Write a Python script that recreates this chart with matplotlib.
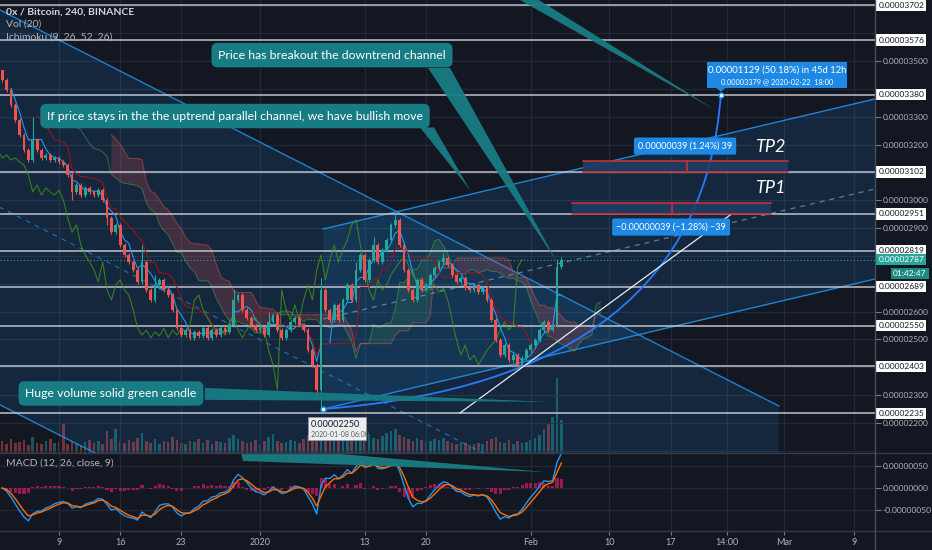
import numpy as np
import pandas as pd
import matplotlib.pyplot as plt
from matplotlib.patches import Polygon, Rectangle, PathPatch
from matplotlib.path import Path
from matplotlib.lines import Line2D

plt.rcParams['font.family'] = ['Lato', 'DejaVu Sans']

BG = '#131722'
GRID = '#232836'
TXT = '#b2b5be'
TEAL = '#187c84'
BLUE = '#2196f3'
UP = '#26a69a'
DOWN = '#ef5350'

# 12h candles, x = days since 2019-12-01, prices in satoshi
start_day = 1.5
step = 0.5
first_open = 3470
closes = [3433, 3397, 3343, 3289, 3235, 3181, 3145, 3217, 3181, 3152,
          3163, 3145, 3152, 3138, 3127, 3091, 3030, 3055, 3019, 3045,
          3030, 3019, 3037, 3001, 2937, 2886, 2912, 2840, 2804, 2779,
          2750, 2707, 2779, 2678, 2642, 2696, 2714, 2678, 2660, 2606,
          2541, 2516, 2534, 2506, 2527, 2513, 2541, 2506, 2534, 2516,
          2541, 2527, 2552, 2642, 2660, 2606, 2577, 2552, 2534, 2541,
          2516, 2563, 2588, 2534, 2506, 2534, 2563, 2577, 2552, 2534,
          2462, 2409, 2319, 2678, 2606, 2570, 2624, 2570, 2642, 2696,
          2642, 2750, 2804, 2714, 2786, 2840, 2779, 2822, 2858, 2912,
          2930, 2840, 2750, 2678, 2642, 2714, 2678, 2696, 2732, 2757,
          2779, 2793, 2768, 2732, 2707, 2721, 2685, 2678, 2696, 2671,
          2685, 2642, 2570, 2498, 2444, 2480, 2426, 2444, 2409, 2434,
          2462, 2480, 2498, 2534, 2563, 2534, 2552, 2760, 2787]
vols = [12, 9, 14, 10, 11, 13, 8, 16, 10, 9,
        12, 14, 10, 11, 30, 9, 12, 10, 8, 11,
        13, 10, 12, 9, 22, 14, 24, 12, 10, 13,
        11, 15, 20, 12, 10, 14, 9, 12, 11, 16,
        13, 10, 9, 12, 11, 14, 10, 13, 9, 12,
        11, 10, 15, 18, 14, 12, 10, 11, 13, 9,
        12, 16, 19, 12, 10, 11, 13, 12, 10, 14,
        18, 22, 28, 34, 24, 16, 14, 18, 15, 20,
        14, 22, 18, 16, 19, 15, 14, 17, 20, 22,
        24, 18, 16, 14, 12, 15, 13, 11, 12, 14,
        13, 15, 12, 10, 9, 11, 10, 8, 9, 10,
        9, 12, 14, 16, 11, 10, 13, 9, 12, 10,
        11, 13, 15, 18, 24, 30, 36, 75, 33]
high_wicks = {0: 3470, 7: 3300, 32: 2840, 35: 2730, 53: 2680, 61: 2600,
              73: 2720, 81: 2780, 85: 2870, 90: 2951, 101: 2810, 127: 2790}
low_wicks = {16: 3000, 24: 2910, 72: 2300, 73: 2250, 118: 2395}

hlines = [3702, 3576, 3380, 3102, 2951, 2819, 2689, 2550, 2403, 2235]
price_ticks = [2200, 2300, 2500, 2600, 2900, 3000, 3200, 3300, 3500]
last_price = 2787
date_ticks = [8, 15, 22, 31, 43, 50, 62, 71, 78, 84.5, 91, 99]
date_labels = ['9', '16', '23', '2020', '13', '20', 'Feb', '10', '17', '14:00', 'Mar', '9']
macd_ticks = [50, 0, -50]
macd_labels = ['0.00000050', '0.00000000', '-0.00000050']

days = start_day + step * np.arange(len(closes))
c = np.array(closes, float)
o = np.r_[first_open, c[:-1]]
h = np.maximum(o, c) + 8
l = np.minimum(o, c) - 8
for k, v in high_wicks.items():
    h[k] = v
for k, v in low_wicks.items():
    l[k] = v
cols = np.where(c >= o, UP, DOWN)

W, H = 932, 550
def fbox(x0, y0, x1, y1):
    return [x0 / W, 1 - y1 / H, (x1 - x0) / W, (y1 - y0) / H]

fig = plt.figure(figsize=(9.32, 5.5), dpi=100, facecolor=BG)
ax = fig.add_axes(fbox(0, 0, 875, 453))
ax_v = ax.twinx()
ax.set_zorder(ax_v.get_zorder() + 1)
ax.patch.set_visible(False)
ax_v.set_facecolor(BG)
ax_m = fig.add_axes(fbox(0, 453, 875, 531), sharex=ax)
ax_m.set_facecolor(BG)

ax.set_xlim(1.25, 101.4)
ax.set_ylim(2092, 3720)
ax_m.set_ylim(-97.7, 79.5)
for a in (ax, ax_v, ax_m):
    for s in a.spines.values():
        s.set_visible(False)

# grid
for t in date_ticks:
    ax.axvline(t, color=GRID, lw=0.9, zorder=0)
    ax_m.axvline(t, color=GRID, lw=0.9, zorder=0)
for p in range(2100, 3800, 100):
    ax.axhline(p, color=GRID, lw=0.9, zorder=0)
for p in macd_ticks:
    ax_m.axhline(p, color=GRID, lw=0.9, zorder=0)

# volume
ax_v.bar(days, vols, width=0.3, color=cols, alpha=0.45, zorder=1)
ax_v.set_ylim(0, max(vols) / 0.166)
ax_v.set_yticks([])

# downtrend channel
dn_x = np.array([-3, 90.4])
dn_top = np.array([3752, 2261])
dn_off = -1419
ax.add_patch(Polygon(list(zip(dn_x, dn_top)) + list(zip(dn_x[::-1], dn_top[::-1] + dn_off)),
                     closed=True, fc=BLUE, alpha=0.13, ec='none', zorder=1))
ax.plot(dn_x, dn_top, color=BLUE, lw=1, alpha=0.8, zorder=2)
ax.plot(dn_x, dn_top + dn_off, color=BLUE, lw=1, alpha=0.8, zorder=2)
ax.plot(dn_x, dn_top + dn_off / 2, color=BLUE, lw=0.9, alpha=0.6, ls=(0, (4, 4)), zorder=2)

# uptrend channel
up_x = np.array([38.25, 105])
up_top = np.array([2897, 3391])
up_off = -647
ax.add_patch(Polygon(list(zip(up_x, up_top)) + list(zip(up_x[::-1], up_top[::-1] + up_off)),
                     closed=True, fc=BLUE, alpha=0.13, ec='none', zorder=1))
ax.plot(up_x, up_top, color=BLUE, lw=1, alpha=0.85, zorder=2)
ax.plot(up_x, up_top + up_off, color=BLUE, lw=1, alpha=0.85, zorder=2)
ax.plot(up_x, up_top + up_off / 2, color='#8fb4d8', lw=0.9, alpha=0.6, ls=(0, (4, 4)), zorder=2)

# horizontal levels
for p in hlines:
    ax.axhline(p, color='#d1d4dc', lw=1.1, alpha=0.9, zorder=3)
ax.axhline(last_price, color=UP, lw=0.8, ls=(0, (1, 2)), zorder=3)

# ichimoku (periods scaled to 12h candles)
hs, ls_, cs = pd.Series(h), pd.Series(l), pd.Series(c)
tenkan = (hs.rolling(3).max() + ls_.rolling(3).min()) / 2
kijun = (hs.rolling(9).max() + ls_.rolling(9).min()) / 2
span_a = (tenkan + kijun) / 2
span_b = (hs.rolling(17).max() + ls_.rolling(17).min()) / 2
disp = 9
sx = days + disp * step
ax.fill_between(sx, span_a, span_b, where=span_a >= span_b, color='#4caf50', alpha=0.15, lw=0, zorder=2)
ax.fill_between(sx, span_a, span_b, where=span_a < span_b, color='#ef5350', alpha=0.2, lw=0, zorder=2)
ax.plot(sx, span_a, color='#4caf50', lw=0.7, alpha=0.5, zorder=2)
ax.plot(sx, span_b, color='#ef5350', lw=0.7, alpha=0.5, zorder=2)
ax.plot(days, tenkan, color='#2196f3', lw=0.8, zorder=3)
ax.plot(days, kijun, color='#991515', lw=0.8, zorder=3)
ax.plot(days - disp * step, c, color='#459915', lw=0.8, alpha=0.75, zorder=3)

# candles
ax.vlines(days, l, h, colors=cols, lw=0.8, zorder=4)
ax.bar(days, np.maximum(np.abs(c - o), 3), bottom=np.minimum(o, c), width=0.32, color=cols, zorder=4)

# curve and white line
curve = Path([(38.25, 2250), (81.4, 2355), (83.75, 3379)], [Path.MOVETO, Path.CURVE3, Path.CURVE3])
ax.add_patch(PathPatch(curve, fc='none', ec='#2979ff', lw=1.3, zorder=5))
ax.plot([53.9, 85.15], [2236, 2955], color='white', lw=0.9, alpha=0.9, zorder=5)

# TP boxes
for (x0, x1, xm, p0, p1) in [(68.0, 91.45, 79.9, 3102, 3141), (66.7, 89.5, 78.2, 2951, 2990)]:
    ax.add_patch(Rectangle((x0, p0), x1 - x0, p1 - p0, fc='#1f3d63', ec='none', alpha=0.9, zorder=5))
    ax.plot([x0, x1], [p0, p0], color='#d32f2f', lw=1.1, zorder=6)
    ax.plot([x0, x1], [p1, p1], color='#d32f2f', lw=1.1, zorder=6)
    ax.plot([xm, xm], [p0, p1], color='#d32f2f', lw=1.1, zorder=6)
ax.text(89.4, 3192, 'TP2', style='italic', size=13, color='white', ha='center', va='center', zorder=7)
ax.text(89.4, 3045, 'TP1', style='italic', size=13, color='white', ha='center', va='center', zorder=7)

lab = dict(boxstyle='round,pad=0.45,rounding_size=0.2', fc='#1e88e5', ec='none')
ax.text(79.66, 3195, '0.00000039 (1.24%) 39', size=6.5, color='white', ha='center', va='center', bbox=lab, zorder=8)
ax.text(78.06, 2904, '\u22120.00000039 (\u22121.28%) \u221239', size=6.5, color='white', ha='center', va='center', bbox=lab, zorder=8)

# target label
ax.add_patch(Rectangle((82.18, 3404), 16.02, 93, fc='#1e88e5', ec='none', zorder=8))
ax.add_patch(Polygon([(83.2, 3405), (84.3, 3405), (83.75, 3390)], fc='#1e88e5', ec='none', zorder=8))
ax.text(90.2, 3468, '0.00001129 (50.18%) in 45d 12h', size=6.8, color='white', ha='center', va='center', zorder=9)
ax.text(90.2, 3425, '0.00003379 @ 2020-02-22  18:00', size=5.3, color='white', ha='center', va='center', zorder=9)
ax.plot(83.75, 3379, 'o', ms=3.5, mfc='white', mec=BLUE, zorder=9)

# low label
ax.plot(38.25, 2250, 'o', ms=3.5, mfc='white', mec=BLUE, zorder=9)
ax.add_patch(Rectangle((36.5, 2139), 6.64, 83, fc='white', ec='#9598a1', lw=0.6, alpha=0.92, zorder=8))
ax.text(36.8, 2193, '0.00002250', size=6.5, color='#131722', ha='left', va='center', zorder=9)
ax.text(36.8, 2157, '2020-01-08 06:00', size=5, color='#555a66', ha='left', va='center', zorder=9)

# callouts
cb = dict(boxstyle='round,pad=0.55,rounding_size=0.5', fc=TEAL, ec='none')
wedges = [
    [(50.24, 3476), (52.76, 3476), (65.0, 2779)],
    [(49.33, 3262), (50.93, 3262), (55.05, 3037)],
    [(24.71, 2326), (24.71, 2283), (63.98, 2276)],
    [(59.63, 3740), (61.9, 3740), (83.09, 3325)],
]
for wdg in wedges:
    ax.add_patch(Polygon(wdg, closed=True, fc=TEAL, ec='none', alpha=0.95, zorder=9))
ax.text(39.25, 3522, 'Price has breakout the downtrend channel', size=8.8, color='white',
        ha='center', va='center', bbox=cb, zorder=10)
ax.text(28.15, 3303, 'If price stays in the the uptrend parallel channel, we have bullish move', size=8.8,
        color='white', ha='center', va='center', bbox=cb, zorder=10)
ax.text(13.95, 2306, 'Huge volume solid green candle', size=8.8, color='white',
        ha='center', va='center', bbox=cb, zorder=10)

# right price axis
ax.yaxis.tick_right()
ax.set_yticks(price_ticks, ['%.8f' % (p * 1e-8) for p in price_ticks])
ax.tick_params(axis='y', colors='#787b86', labelcolor=TXT, labelsize=6, length=4, pad=1.5)
ax.tick_params(axis='x', labelbottom=False, length=0)
for p in hlines:
    ax.annotate('%.8f' % (p * 1e-8), xy=(1.0, p), xycoords=('axes fraction', 'data'), xytext=(2.5, 0),
                textcoords='offset points', va='center', ha='left', size=6, color='#131722',
                bbox=dict(boxstyle='square,pad=0.25', fc='white', ec='none'), annotation_clip=False)
ax.annotate('%.8f' % (last_price * 1e-8), xy=(1.0, last_price), xycoords=('axes fraction', 'data'),
            xytext=(2.5, 0), textcoords='offset points', va='center', ha='left', size=6, color='white',
            bbox=dict(boxstyle='square,pad=0.25', fc=UP, ec='none'), annotation_clip=False)
ax.annotate('01:42:47', xy=(1.0, last_price), xycoords=('axes fraction', 'data'),
            xytext=(13, -10), textcoords='offset points', va='center', ha='left', size=6, color='white',
            bbox=dict(boxstyle='square,pad=0.25', fc='#1d8a80', ec='none'), annotation_clip=False)

# legend texts
fig.text(6 / W, 1 - 12 / H, '0x / Bitcoin, 240, BINANCE', size=7.5, color='#d1d4dc', weight='bold', va='center')
fig.text(6 / W, 1 - 24.5 / H, 'Vol (20)', size=7.5, color=TXT, va='center')
fig.text(6 / W, 1 - 37 / H, 'Ichimoku (9, 26, 52, 26)', size=7.5, color=TXT, va='center')

# MACD (periods scaled to 12h candles)
ema_f = cs.ewm(span=4, adjust=False).mean()
ema_s = cs.ewm(span=9, adjust=False).mean()
macd = ema_f - ema_s
signal = macd.ewm(span=3, adjust=False).mean()
hist = macd - signal
ax_m.bar(days, hist, width=0.35, color='#c2185b', alpha=0.8, zorder=2)
ax_m.plot(days, macd, color=BLUE, lw=1, zorder=3)
ax_m.plot(days, signal, color='#ff6d00', lw=1, zorder=3)
ax_m.add_patch(Polygon([(28.83, 79.5), (39.02, 79.5), (63.63, 36.4), (29.06, 61.4)],
                       closed=True, fc=TEAL, ec='none', alpha=0.95, zorder=4))
ax_m.text(6 / 875, 1 - 10 / 78, 'MACD (12, 26, close, 9)', transform=ax_m.transAxes, size=7.5,
          color=TXT, va='center')
ax_m.yaxis.tick_right()
ax_m.set_yticks(macd_ticks, macd_labels)
ax_m.tick_params(axis='y', colors='#787b86', labelcolor=TXT, labelsize=6, length=4, pad=1.5)
ax_m.set_xticks(date_ticks, date_labels)
ax_m.tick_params(axis='x', colors='#787b86', labelcolor=TXT, labelsize=6.5, length=3, pad=2)

# pane separators
for yy in (453, 531):
    fig.add_artist(Line2D([0, 1], [1 - yy / H] * 2, color='#363a45', lw=1))
fig.add_artist(Line2D([875 / W] * 2, [0, 1], color='#4a4e5a', lw=1))

fig.savefig('out.png', dpi=100, facecolor=BG)
